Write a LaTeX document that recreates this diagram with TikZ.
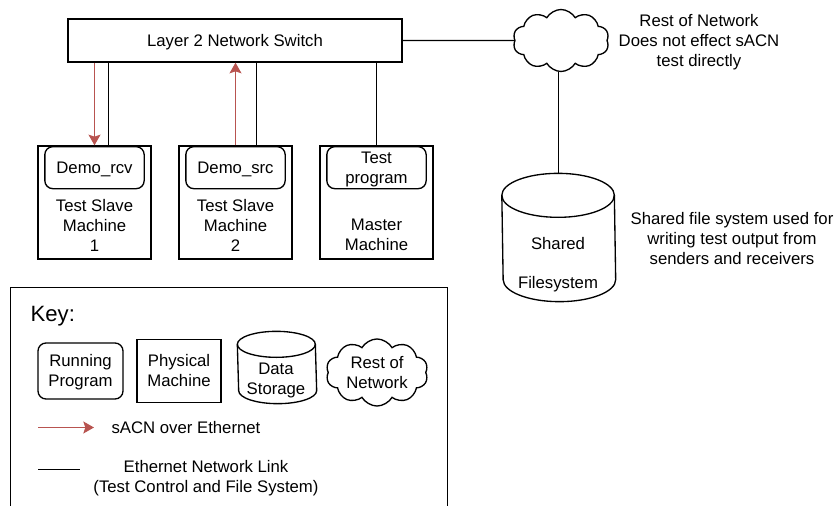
\documentclass[tikz,border=0pt]{standalone}
\usepackage{fontspec}
\setmainfont{Liberation Sans}
\usetikzlibrary{arrows.meta, shapes.symbols}

\definecolor{sacnred}{HTML}{B85450}

\tikzset{
  label text/.style={align=center, inner sep=0pt, font=\fontsize{12.55}{15}\selectfont},
  oneline/.style={text height=11.2pt, text depth=2.6pt},
  twoline/.style={text height=26.2pt, text depth=2.6pt},
  machine/.style={draw, minimum width=84.75pt, minimum height=84.75pt, inner sep=0pt},
  program/.style={draw, rounded corners=6pt, minimum width=74.5pt, minimum height=31.5pt, label text},
  netcloud/.style={draw, cloud, cloud puffs=10, cloud puff arc=120, aspect=1.6, inner sep=0pt, label text},
  ethlink/.style={draw=black, line width=1pt},
  sacnlink/.style={draw=sacnred, line width=1pt, -{Stealth[length=8pt, width=9pt, inset=1.5pt]}}
}

% Drum outline around a node: name, x radius, y radius
\newcommand{\drumoutline}[3]{
  \draw ([yshift=-#3]#1.north west) arc[start angle=180, end angle=0, x radius=#2, y radius=#3]
    -- ([yshift=#3]#1.south east) arc[start angle=0, end angle=-180, x radius=#2, y radius=#3] -- cycle;
  \draw ([yshift=-#3]#1.north west) arc[start angle=180, end angle=360, x radius=#2, y radius=#3];
}

\begin{document}
\begin{tikzpicture}[x=0.75pt, y=-0.75pt, line width=1pt]
  \useasboundingbox (0,0) rectangle (838,506);

  % Switch and the rest of the network
  \node[draw, minimum width=250.5pt, minimum height=32.25pt, label text, oneline] (switch) at (235,40.5) {Layer 2 Network Switch};
  \node[netcloud, minimum width=72pt, minimum height=46.5pt] (cloud) at (561,40.5) {};
  \node[label text] (cloudnote) at (699,42) {Rest of Network\\Does not effect sACN\\test directly};

  % Machines
  \node[machine] (slaveone) at (94.5,202.5) {};
  \node[machine] (slavetwo) at (235.5,202.5) {};
  \node[machine] (master) at (376.5,202.5) {};

  % Programs
  \node[program, oneline, anchor=north] (rcv) at (94.5,146) {Demo\_rcv};
  \node[program, oneline, anchor=north] (src) at (235.5,146) {Demo\_src};
  \node[program, twoline, anchor=north] (testprog) at (376.5,146) {Test\\program};

  % Machine labels
  \node[label text] (slaveonetext) at (94.5,225) {Test Slave\\Machine\\1};
  \node[label text] (slavetwotext) at (235.5,225) {Test Slave\\Machine\\2};
  \node[label text] (mastertext) at (376.5,235) {Master\\Machine};

  % File system
  \node[minimum width=84.4pt, minimum height=95.25pt, inner sep=0pt] (disk) at (558.75,237.5) {};
  \drumoutline{disk}{42.2pt}{16.5pt}
  \node[label text] (disktop) at (558,244) {Shared};
  \node[label text] (diskbottom) at (558,284) {Filesystem};
  \node[label text] (disknote) at (732,239) {Shared file system used for\\writing test output from\\senders and receivers};

  % Links
  \draw[ethlink] (switch.east) -- (cloud.west);
  \draw[ethlink] (disk.north) -- (disk.north |- cloud.south);
  \draw[ethlink] ([xshift=10.5pt]switch.south -| slaveone.north) -- ([xshift=10.5pt]slaveone.north);
  \draw[ethlink] ([xshift=15.75pt]switch.south -| slavetwo.north) -- ([xshift=15.75pt]slavetwo.north);
  \draw[ethlink] (switch.south -| master.north) -- (master.north);
  \draw[sacnlink] (switch.south -| slaveone.north) -- (slaveone.north);
  \draw[sacnlink] (slavetwo.north) -- (slavetwo.north |- switch.south);

  % Key frame, cut off by the page
  \coordinate (framea) at (10.5,506);
  \coordinate (frameb) at (10.5,287.5);
  \coordinate (framec) at (447.5,287.5);
  \coordinate (framed) at (447.5,506);
  \draw[ethlink] (framea) -- (frameb) -- (framec) -- (framed);
  \node[anchor=west, inner sep=0pt, font=\fontsize{16.6}{18}\selectfont] (keytitle) at (30,316) {Key:};

  % Key shapes
  \node[draw, rounded corners=6pt, minimum width=63.75pt, minimum height=42pt, label text, twoline] (keyprogram) at (80.5,371) {Running\\Program};
  \node[draw, line width=1.3pt, minimum width=63pt, minimum height=47.25pt, label text, twoline] (keymachine) at (179,371) {Physical\\Machine};
  \node[minimum width=58.5pt, minimum height=53.25pt, inner sep=0pt] (keystorage) at (277,367.5) {};
  \drumoutline{keystorage}{29.25pt}{9.75pt}
  \node[label text] (keystoragetext) at (276,380) {Data\\Storage};
  \node[netcloud, minimum width=76.5pt, minimum height=45.75pt] (keycloud) at (377,372.5) {Rest of\\Network};

  % Key lines
  \coordinate (keyreda) at (38,427.5);
  \coordinate (keyredb) at (94,427.5);
  \coordinate (keyblacka) at (38,469.5);
  \coordinate (keyblackb) at (80,469.5);
  \draw[sacnlink] (keyreda) -- (keyredb);
  \draw[ethlink] (keyblacka) -- (keyblackb);
  \node[label text] (keyredtext) at (186,428) {sACN over Ethernet};
  \node[label text] (keyblacktext) at (206,478) {Ethernet Network Link\\(Test Control and File System)};
\end{tikzpicture}
\end{document}
